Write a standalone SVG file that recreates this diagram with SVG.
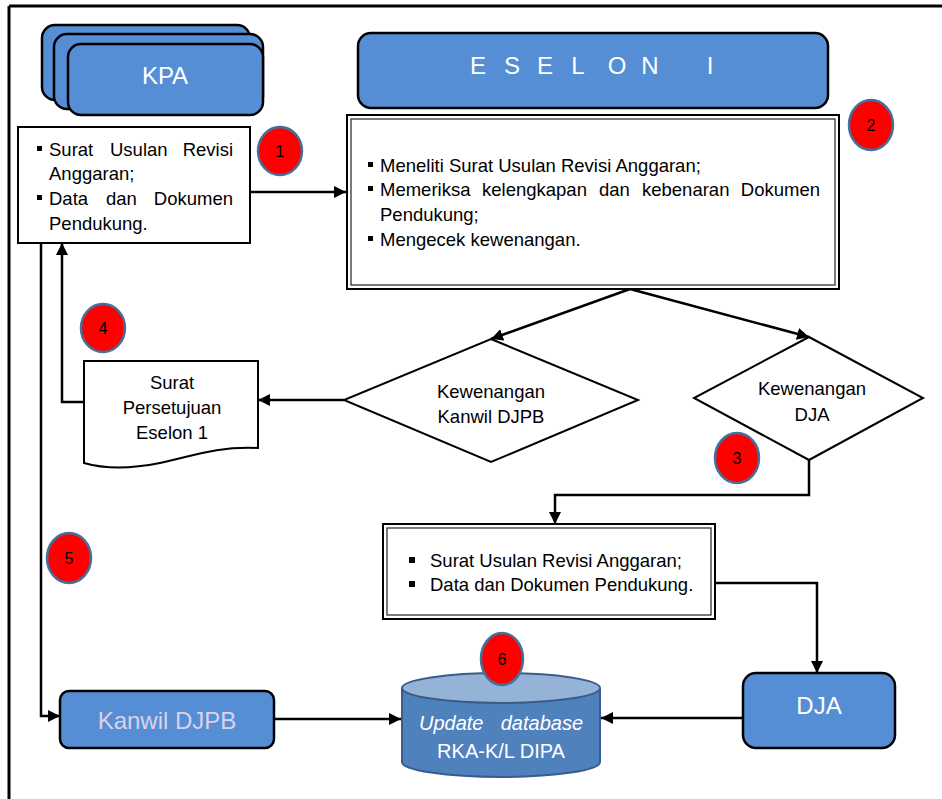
<svg xmlns="http://www.w3.org/2000/svg" width="942" height="799" viewBox="0 0 942 799">
<defs>
<marker id="arr" markerUnits="userSpaceOnUse" markerWidth="14" markerHeight="14" refX="12" refY="6" orient="auto">
<path d="M0,0 L12,6 L0,12 Z" fill="#000"/>
</marker>
<style>
.t{font-family:"Liberation Sans",Arial,sans-serif;font-size:18.5px;fill:#000}
.w{font-family:"Liberation Sans",Arial,sans-serif;fill:#fff}
.blue{fill:#558ED5;stroke:#000;stroke-width:2.5}
.box{fill:#fff;stroke:#000;stroke-width:2}
.dbl{fill:none;stroke:#333;stroke-width:1.3}
.con{fill:none;stroke:#000;stroke-width:2.5}
.num{fill:#ff0000;stroke:#41719C;stroke-width:2.5}
.nt{font-family:"Liberation Sans",Arial,sans-serif;font-size:16px;fill:#000;text-anchor:middle}
.bul{fill:#000}
.c{text-anchor:middle}
</style>
</defs>
<rect width="942" height="799" fill="#fff"/>
<g id="frame">
<path d="M9,6 H942 M9,6 V799" fill="none" stroke="#000" stroke-width="3"/>
</g>

<g id="connectors">
<path class="con" d="M250,192 H346" marker-end="url(#arr)"/>
<path class="con" d="M630,289 L491,339" marker-end="url(#arr)"/>
<path class="con" d="M630,289 L809,337" marker-end="url(#arr)"/>
<path class="con" d="M344,400 H258" marker-end="url(#arr)"/>
<path class="con" d="M84,402 H62 V243" marker-end="url(#arr)"/>
<path class="con" d="M41,243 V716 H60" marker-end="url(#arr)"/>
<path class="con" d="M809,460 V495 H555 V524" marker-end="url(#arr)"/>
<path class="con" d="M715,583 H817 V673" marker-end="url(#arr)"/>
<path class="con" d="M274,719 H401" marker-end="url(#arr)"/>
<path class="con" d="M743,718 H601" marker-end="url(#arr)"/>
</g>

<g id="kpa">
<rect class="blue" x="42" y="25" width="208" height="75" rx="13"/>
<rect class="blue" x="54" y="34" width="209" height="75" rx="13"/>
<rect class="blue" x="68" y="44" width="195" height="71" rx="13"/>
<text class="w c" x="165" y="84" font-size="24">KPA</text>
</g>

<g id="kpa-docs">
<rect class="box" x="18" y="127" width="232" height="116"/>
<rect class="bul" x="37" y="146" width="5" height="5"/>
<text class="t" x="49" y="156">Surat</text>
<text class="t" x="110" y="156">Usulan</text>
<text class="t" x="233" y="156" text-anchor="end">Revisi</text>
<text class="t" x="49" y="180">Anggaran;</text>
<rect class="bul" x="37" y="195" width="5" height="5"/>
<text class="t" x="49" y="205">Data</text>
<text class="t" x="106" y="205">dan</text>
<text class="t" x="233" y="205" text-anchor="end">Dokumen</text>
<text class="t" x="49" y="230">Pendukung.</text>
</g>

<g id="eselon">
<rect class="blue" x="358" y="33" width="470" height="75" rx="13"/>
<g class="w c" font-size="24">
<text x="478" y="74">E</text>
<text x="512" y="74">S</text>
<text x="545" y="74">E</text>
<text x="578" y="74">L</text>
<text x="617" y="74">O</text>
<text x="650" y="74">N</text>
<text x="710" y="74">I</text>
</g>
</g>

<g id="eselon-check">
<rect class="box" x="347" y="115" width="492" height="174"/>
<rect class="dbl" x="351" y="119" width="484" height="166"/>
<rect class="bul" x="368" y="162" width="5" height="5"/>
<text class="t" x="380" y="172">Meneliti Surat Usulan Revisi Anggaran;</text>
<rect class="bul" x="368" y="186" width="5" height="5"/>
<text class="t" x="380" y="196">Memeriksa</text>
<text class="t" x="482" y="196">kelengkapan</text>
<text class="t" x="599" y="196">dan</text>
<text class="t" x="642" y="196">kebenaran</text>
<text class="t" x="820" y="196" text-anchor="end">Dokumen</text>
<text class="t" x="380" y="221">Pendukung;</text>
<rect class="bul" x="368" y="236" width="5" height="5"/>
<text class="t" x="380" y="246">Mengecek kewenangan.</text>
</g>

<g id="dec-kanwil">
<path class="box" d="M491,339 L638,400 L491,462 L344,400 Z"/>
<text class="t c" x="491" y="398">Kewenangan</text>
<text class="t c" x="491" y="423">Kanwil DJPB</text>
</g>

<g id="dec-dja">
<path class="box" d="M809,337 L923,398 L809,460 L694,398 Z"/>
<text class="t c" x="812" y="395">Kewenangan</text>
<text class="t c" x="812" y="421">DJA</text>
</g>

<g id="surat-persetujuan">
<path class="box" d="M84,361 H258 V448 C215,446 190,457 160,463 C130,469 105,469 84,463 Z"/>
<text class="t c" x="172" y="389">Surat</text>
<text class="t c" x="172" y="414">Persetujuan</text>
<text class="t c" x="172" y="439">Eselon 1</text>
</g>

<g id="dja-docs">
<rect class="box" x="383" y="524" width="332" height="95"/>
<rect class="dbl" x="387" y="528" width="324" height="87"/>
<rect class="bul" x="409" y="557" width="6" height="6"/>
<text class="t" x="430" y="567">Surat Usulan Revisi Anggaran;</text>
<rect class="bul" x="409" y="581" width="6" height="6"/>
<text class="t" x="430" y="591">Data dan Dokumen Pendukung.</text>
</g>

<g id="kanwil">
<rect class="blue" x="60" y="691" width="214" height="57" rx="9"/>
<text class="c" x="167" y="729" font-family="Liberation Sans, Arial, sans-serif" font-size="24" fill="#D9D2E9">Kanwil DJPB</text>
</g>

<g id="dja">
<rect class="blue" x="743" y="673" width="152" height="75" rx="13"/>
<text class="w c" x="819" y="714" font-size="24">DJA</text>
</g>

<g id="database">
<path d="M402,688 V762 A99,15 0 0 0 600,762 V688" fill="#4F81BD" stroke="#385D8A" stroke-width="2"/>
<ellipse cx="501" cy="688" rx="99" ry="15" fill="#95B3D7" stroke="#385D8A" stroke-width="2"/>
<text class="w" x="419" y="730" font-size="20" font-style="italic">Update</text>
<text class="w" x="583" y="730" font-size="20" font-style="italic" text-anchor="end">database</text>
<text class="w c" x="501" y="758" font-size="20">RKA-K/L DIPA</text>
</g>

<g id="step1"><ellipse class="num" cx="280" cy="151" rx="22" ry="24"/><text class="nt" x="280" y="157">1</text></g>
<g id="step2"><ellipse class="num" cx="871" cy="125" rx="22" ry="25"/><text class="nt" x="871" y="131">2</text></g>
<g id="step3"><ellipse class="num" cx="737" cy="458" rx="22" ry="25"/><text class="nt" x="737" y="464">3</text></g>
<g id="step4"><ellipse class="num" cx="103" cy="328" rx="22" ry="24"/><text class="nt" x="103" y="334">4</text></g>
<g id="step5"><ellipse class="num" cx="69" cy="558" rx="22" ry="25"/><text class="nt" x="69" y="564">5</text></g>
<g id="step6"><ellipse class="num" cx="502" cy="659" rx="21" ry="26"/><text class="nt" x="502" y="665">6</text></g>
</svg>
